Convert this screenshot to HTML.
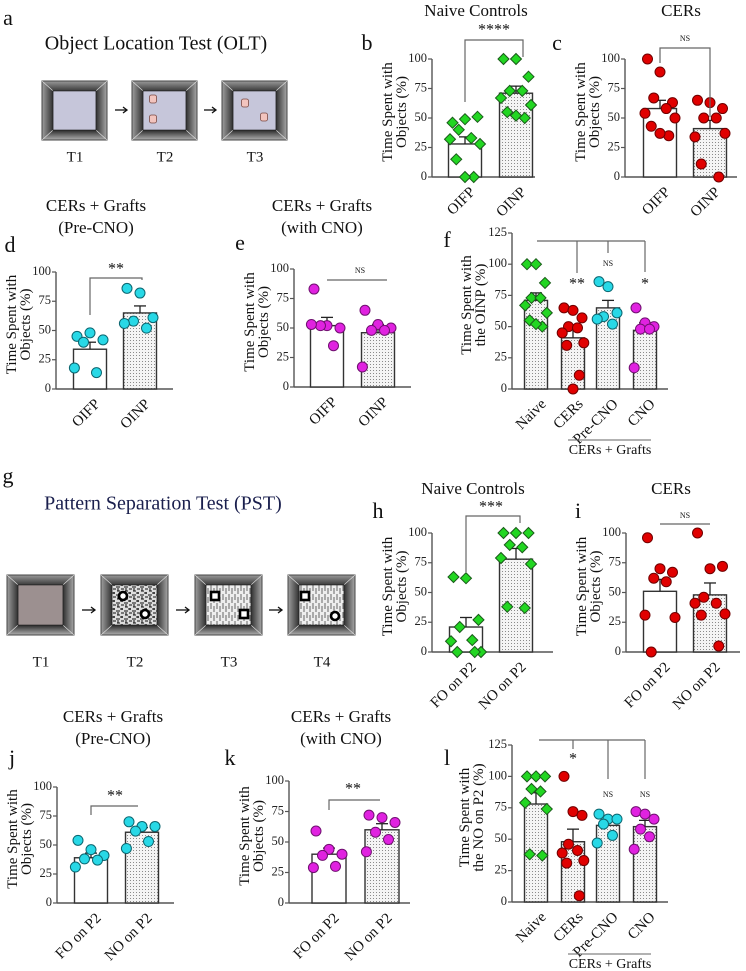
<!DOCTYPE html>
<html><head><meta charset="utf-8"><style>
html,body{margin:0;padding:0;background:#fff;}
svg{display:block;font-family:"Liberation Serif",serif;}
</style></head><body>
<svg id="fig" width="746" height="971" viewBox="0 0 746 971" xmlns="http://www.w3.org/2000/svg">
<defs>
<pattern id="dots" width="3" height="3" patternUnits="userSpaceOnUse"><rect width="3" height="3" fill="#f4f4f4"/><rect x="1" y="1" width="1" height="1" fill="#8a8a8a"/></pattern>
<pattern id="noise" width="8" height="8" patternUnits="userSpaceOnUse"><rect width="8" height="8" fill="#ddd"/><path d="M0 1h3M4 3h4M1 5h3M5 7h3M2 0v2M6 4v3" stroke="#111" stroke-width="1"/></pattern>
<pattern id="vlines" width="6" height="9" patternUnits="userSpaceOnUse"><rect width="6" height="9" fill="#eee"/><path d="M1 0v6M4 3v6" stroke="#444" stroke-width="0.8"/></pattern>
<linearGradient id="gT" x1="0" y1="0" x2="0" y2="1"><stop offset="0" stop-color="#9a9a9a"/><stop offset="1" stop-color="#3a3a3a"/></linearGradient>
<linearGradient id="gB" x1="0" y1="0" x2="0" y2="1"><stop offset="0" stop-color="#2a2a2a"/><stop offset="1" stop-color="#b0b0b0"/></linearGradient>
<linearGradient id="gL" x1="0" y1="0" x2="1" y2="0"><stop offset="0" stop-color="#a0a0a0"/><stop offset="1" stop-color="#303030"/></linearGradient>
<linearGradient id="gR" x1="0" y1="0" x2="1" y2="0"><stop offset="0" stop-color="#303030"/><stop offset="1" stop-color="#a8a8a8"/></linearGradient>
</defs>
<g id="root"></g>
</svg>
<script>
// ---- data ----
const twoGroupLabelsOLT = ["OIFP","OINP"];
const twoGroupLabelsPST = ["FO on P2","NO on P2"];
const fourGroupLabels = ["Naive","CERs","Pre-CNO","CNO"];
const yTicks100 = [0,25,50,75,100];
const yTicks125 = [0,25,50,75,100,125];

const bOIFP = [46,49,51,40,33,32,28,15,0,0];
const bOINP = [100,100,85,73,73,67,61,55,50,52];
const bMeans = [28,71];
const bSems = [6,6];

const cOIFP = [100,89,63,67,58,54,50,43,35,37];
const cOINP = [65,63,58,50,50,34,37,11,0];
const cMeans = [58,41];
const cSems = [7,7];

const dOIFP = [45,48,42,40,14,18];
const dOINP = [86,82,61,58,52,56];
const dMeans = [34,65];
const dSems = [6,6];

const eOIFP = [83,52,50,52,35,53];
const eOINP = [65,53,50,48,48,17];
const eMeans = [52,46];
const eSems = [7,7];

const fNaive = [100,100,85,73,73,67,61,55,50,52];
const fCERs = [65,63,57,50,49,45,37,35,11,0];
const fPre = [86,82,61,58,52,56];
const fCNO = [65,53,50,48,48,17];
const fMeans = [71,41,65,47];
const fSems = [6,7,6,6];

const hFO = [63,62,27,21,10,9,0,0,0];
const hNO = [100,100,100,90,88,79,74,38,37];
const hMeans = [21,78];
const hSems = [8,9];

const iFO = [96,70,67,62,59,31,29,0];
const iNO = [100,70,72,46,41,41,32,31,5];
const iMeans = [51,48];
const iSems = [10,10];

const jFO = [54,46,41,38,37,31];
const jNO = [70,66,66,62,53,47];
const jMeans = [39,61];
const jSems = [4,4];

const kFO = [59,44,40,39,30,29];
const kNO = [72,70,66,58,52,42];
const kMeans = [40,60];
const kSems = [5,5];

const lNaive = [100,100,100,90,88,79,74,38,37];
const lCERs = [100,72,69,46,41,39,33,31,5];
const lPre = [70,66,66,62,53,47];
const lCNO = [72,70,66,58,52,42];
const lMeans = [78,48,61,60];
const lSems = [9,10,4,5];

// ---- drawing helpers ----
const NS="http://www.w3.org/2000/svg";
const root=document.getElementById('root');
function el(tag,attrs,parent,text){const e=document.createElementNS(NS,tag);for(const k in attrs)e.setAttribute(k,attrs[k]);if(text!==undefined)e.textContent=text;(parent||root).appendChild(e);return e;}
function txt(x,y,s,size,parent,extra){const t=el('text',Object.assign({x:x,y:y,'font-size':size,'text-anchor':'middle','dominant-baseline':'middle',fill:'#111'},extra||{}),parent,s);return t;}

const jit=[-10,0,10,-5,5,-12,12,-7,7,0];
const MK={
 green:{shape:'diamond',fill:'#22d622',stroke:'#1a5a1a'},
 red:{shape:'circle',fill:'#e00000',stroke:'#700000'},
 cyan:{shape:'circle',fill:'#28d8e6',stroke:'#0b6670'},
 magenta:{shape:'circle',fill:'#e022e0',stroke:'#701070'}
};

function panel(o){
  const g=el('g',{});
  
  
  const maxV=o.maxV;
  const ys=v=>o.y0-(v/maxV)*(o.y0-o.yMax);
  const ax=el('line',{x1:o.ax,y1:o.yMax,x2:o.ax,y2:o.y0,stroke:'#555','stroke-width':1.4},g);
  
  const xa=el('line',{x1:o.ax,y1:o.y0,x2:o.axEnd,y2:o.y0,stroke:'#555','stroke-width':1.4},g);
  
  o.ticks.forEach(t=>{
    el('line',{x1:o.ax-4,y1:ys(t),x2:o.ax,y2:ys(t),stroke:'#555','stroke-width':1.2},g);
    const tl=txt(o.ax-5,ys(t),String(t),12.5,g,{'text-anchor':'end',fill:'#222'});
    
  });
  const yt=el('text',{transform:`translate(${o.ax+o.ytOff},${(o.y0+o.yMax)/2+o.ytShift}) rotate(-90)`,'font-size':15,'text-anchor':'middle',fill:'#111'},g);
  
  el('tspan',{x:0,dy:0},yt,o.ytitle[0]);
  el('tspan',{x:0,dy:14},yt,o.ytitle[1]);
  o.groups.forEach((gr,i)=>{
    const c=o.centers[i];
    const b=el('rect',{x:c-o.bw/2,y:ys(o.means[i]),width:o.bw,height:o.y0-ys(o.means[i]),fill:gr.fill,stroke:'#333','stroke-width':1.4},g);
    
    
    const top=ys(o.means[i]+o.sems[i]);
    el('line',{x1:c,y1:ys(o.means[i]),x2:c,y2:top,stroke:'#222','stroke-width':1.3},g);
    const eb=el('line',{x1:c-6,y1:top,x2:c+6,y2:top,stroke:'#222','stroke-width':1.3},g);
    
    const m=MK[gr.color];
    gr.vals.forEach((v,k)=>{
      const px=c+jit[k%jit.length]*o.jscale, py=ys(v);
      let p;
      if(m.shape==='diamond'){
        p=el('polygon',{points:`${px},${py-5.5} ${px+5.5},${py} ${px},${py+5.5} ${px-5.5},${py}`,fill:m.fill,stroke:m.stroke,'stroke-width':1},g);
      } else {
        p=el('circle',{cx:px,cy:py,r:5,fill:m.fill,stroke:m.stroke,'stroke-width':1},g);
      }
      
      
    });
    const xl=el('text',{transform:`translate(${c+4},${o.y0+9}) rotate(-45)`,'font-size':15,'text-anchor':'end','dominant-baseline':'hanging',fill:'#111'},g,o.labels[i]);
    
  });
  return g;
}
function bracket(pts,label,lx,ly,size,name){
  const p=el('polyline',{points:pts,fill:'none',stroke:'#666','stroke-width':1.2});
  
  
  const t=txt(lx,ly,label,size);
  
  
}
function label(x,y,s,size,name,anchor){
  const t=el('text',{x:x,y:y,'font-size':size,'text-anchor':anchor||'middle','dominant-baseline':'middle',fill:'#111'},root,s);
  
  
  return t;
}
function arena(x,y,w,h,inset,fillInner,name){
  const g=el('g',{});
  
  
  const ix=x+inset,iy=y+inset*0.9,iw=w-2*inset,ih=h-1.8*inset;
  el('polygon',{points:`${x},${y} ${x+w},${y} ${ix+iw},${iy} ${ix},${iy}`,fill:'url(#gT)'},g);
  el('polygon',{points:`${x},${y+h} ${x+w},${y+h} ${ix+iw},${iy+ih} ${ix},${iy+ih}`,fill:'url(#gB)'},g);
  el('polygon',{points:`${x},${y} ${ix},${iy} ${ix},${iy+ih} ${x},${y+h}`,fill:'url(#gL)'},g);
  el('polygon',{points:`${x+w},${y} ${ix+iw},${iy} ${ix+iw},${iy+ih} ${x+w},${y+h}`,fill:'url(#gR)'},g);
  el('rect',{x:x,y:y,width:w,height:h,fill:'none',stroke:'#444','stroke-width':1},g);
  el('line',{x1:x,y1:y,x2:ix,y2:iy,stroke:'#ddd','stroke-width':0.7},g);
  el('line',{x1:x+w,y1:y,x2:ix+iw,y2:iy,stroke:'#ddd','stroke-width':0.7},g);
  el('line',{x1:x,y1:y+h,x2:ix,y2:iy+ih,stroke:'#ddd','stroke-width':0.7},g);
  el('line',{x1:x+w,y1:y+h,x2:ix+iw,y2:iy+ih,stroke:'#ddd','stroke-width':0.7},g);
  el('rect',{x:ix,y:iy,width:iw,height:ih,fill:fillInner,stroke:'#222','stroke-width':0.8},g);
  return g;
}
function arrow(x1,x2,y,name){
  const g=el('g',{});
  
  
  el('line',{x1:x1,y1:y,x2:x2,y2:y,stroke:'#111','stroke-width':1.3},g);
  el('polyline',{points:`${x2-4},${y-3} ${x2},${y} ${x2-4},${y+3}`,fill:'none',stroke:'#111','stroke-width':1.3},g);
}

// ---- panel letters ----
[['a',8,20],['b',367,45],['c',557,45],['d',10,247],['e',240,245],['f',447,242],['g',8,478],['h',378,513],['i',578,513],['j',12,760],['k',230,760],['l',447,760]].forEach(p=>label(p[1],p[2],p[0],22,'panel-letter-'+p[0]));

// ---- panel a schematic ----
label(156,45,'Object Location Test (OLT)',20,'olt-title');
const boxA=[42,132,222];
boxA.forEach((x,i)=>{
  arena(x,81,65,59,11,'#c6c6da','olt-arena-t'+(i+1));
  label(x+33,158,'T'+(i+1),15,'olt-trial-label');
});
arrow(115,127,110,'olt-arrow');arrow(204,216,110,'olt-arrow');
[[153,99],[153,119],[245,103],[264,117]].forEach(p=>{
  const o=el('rect',{x:p[0]-3.5,y:p[1]-4,width:7,height:8,rx:2,fill:'#f2c4be',stroke:'#7a4a44','stroke-width':0.8});
  
});

// ---- panel g schematic ----
const pt=label(163,505,'Pattern Separation Test (PST)',20,'pst-title');pt.setAttribute('fill','#1a1f4d');
const fills=['#9c9090','url(#noise)','url(#vlines)','url(#vlines)'];
[7,101,195,288].forEach((x,i)=>{
  arena(x,575,67,60,11,fills[i],'pst-arena-t'+(i+1));
  label(x+34,663,'T'+(i+1),15,'pst-trial-label');
});
arrow(82,95,610,'pst-arrow');arrow(176,189,610,'pst-arrow');arrow(269,282,610,'pst-arrow');
[[123,596],[145,614],[335,616]].forEach(p=>{const c=el('circle',{cx:p[0],cy:p[1],r:4,fill:'#fff',stroke:'#000','stroke-width':2.6});});
[[215,596],[244,614],[305,596]].forEach(p=>{const r=el('rect',{x:p[0]-4,y:p[1]-4,width:8,height:8,fill:'#fff',stroke:'#000','stroke-width':2.6});});

// ---- titles ----
label(476,12,'Naive Controls',17,'title-b');
label(681,12,'CERs',17,'title-c');
label(96,207,'CERs + Grafts',17,'title-d');label(96,229,'(Pre-CNO)',17,'title-d-sub');
label(322,207,'CERs + Grafts',17,'title-e');label(322,229,'(with CNO)',17,'title-e-sub');
label(473,490,'Naive Controls',17,'title-h');
label(671,490,'CERs',17,'title-i');
label(113,718,'CERs + Grafts',17,'title-j');label(113,740,'(Pre-CNO)',17,'title-j-sub');
label(341,718,'CERs + Grafts',17,'title-k');label(341,740,'(with CNO)',17,'title-k-sub');

const WT='#ffffff', DT='url(#dots)';
const YT=['Time Spent with','Objects (%)'];
// b
panel({name:'panel-b',ax:432,axEnd:535,yMax:59,y0:177,maxV:100,ticks:yTicks100,centers:[465,516],bw:33,jscale:1.25,ytOff:-40,ytShift:-6,ytitle:YT,labels:twoGroupLabelsOLT,means:bMeans,sems:bSems,groups:[{vals:bOIFP,fill:WT,color:'green'},{vals:bOINP,fill:DT,color:'green'}]});
bracket('465,102 465,40 523,40 523,57','****',494,31,16,'sig-bracket-b');
// c
panel({name:'panel-c',ax:625,axEnd:737,yMax:59,y0:177,maxV:100,ticks:yTicks100,centers:[660,710],bw:33,jscale:1.25,ytOff:-40,ytShift:-6,ytitle:YT,labels:twoGroupLabelsOLT,means:cMeans,sems:cSems,groups:[{vals:cOIFP,fill:WT,color:'red'},{vals:cOINP,fill:DT,color:'red'}]});
bracket('660,63 660,48 710,48 710,117','NS',685,39,8,'sig-bracket-c');
// d
panel({name:'panel-d',ax:56,axEnd:173,yMax:272,y0:389,maxV:100,ticks:yTicks100,centers:[90,140],bw:33,jscale:1.3,ytOff:-40,ytShift:-6,ytitle:YT,labels:twoGroupLabelsOLT,means:dMeans,sems:dSems,groups:[{vals:dOIFP,fill:WT,color:'cyan'},{vals:dOINP,fill:DT,color:'cyan'}]});
bracket('90,315 90,278 142,278 142,280','**',116,270,16,'sig-bracket-d');
// e
panel({name:'panel-e',ax:294,axEnd:411,yMax:269,y0:387,maxV:100,ticks:yTicks100,centers:[327,378],bw:33,jscale:1.3,ytOff:-40,ytShift:-6,ytitle:YT,labels:twoGroupLabelsOLT,means:eMeans,sems:eSems,groups:[{vals:eOIFP,fill:WT,color:'magenta'},{vals:eOINP,fill:DT,color:'magenta'}]});
bracket('327,280 387,280','NS',360,271,8,'sig-bracket-e');
// f
panel({name:'panel-f',ax:512,axEnd:668,yMax:233,y0:389,maxV:125,ticks:yTicks125,centers:[536,573,608,645],bw:23,jscale:0.9,ytOff:-41,ytShift:-6,ytitle:['Time Spent with','the OINP (%)'],labels:fourGroupLabels,means:fMeans,sems:fSems,groups:[{vals:fNaive,fill:DT,color:'green'},{vals:fCERs,fill:DT,color:'red'},{vals:fPre,fill:DT,color:'cyan'},{vals:fCNO,fill:DT,color:'magenta'}]});
bracket('537,241 645,241','',0,0,1,'sig-bracket-f');
bracket('577,241 577,273','**',577,285,16,'sig-bracket-f-cers');
bracket('608,241 608,253','NS',608,264,8,'sig-bracket-f-pre');
bracket('645,241 645,272','*',645,285,16,'sig-bracket-f-cno');
el('line',{x1:568,y1:440,x2:651,y2:440,stroke:'#666','stroke-width':1});
label(610,451,'CERs + Grafts',14,'group-label-f');
// h
panel({name:'panel-h',ax:432,axEnd:553,yMax:533,y0:652,maxV:100,ticks:yTicks100,centers:[466,516],bw:33,jscale:1.25,ytOff:-40,ytShift:-6,ytitle:YT,labels:twoGroupLabelsPST,means:hMeans,sems:hSems,groups:[{vals:hFO,fill:WT,color:'green'},{vals:hNO,fill:DT,color:'green'}]});
bracket('466,572 466,516 520,516 520,523','***',491,508,16,'sig-bracket-h');
// i
panel({name:'panel-i',ax:626,axEnd:740,yMax:533,y0:652,maxV:100,ticks:yTicks100,centers:[660,710],bw:33,jscale:1.25,ytOff:-40,ytShift:-6,ytitle:YT,labels:twoGroupLabelsPST,means:iMeans,sems:iSems,groups:[{vals:iFO,fill:WT,color:'red'},{vals:iNO,fill:DT,color:'red'}]});
bracket('660,524 710,524','NS',685,516,8,'sig-bracket-i');
// j
panel({name:'panel-j',ax:57,axEnd:174,yMax:787,y0:903,maxV:100,ticks:yTicks100,centers:[91,142],bw:33,jscale:1.3,ytOff:-40,ytShift:-6,ytitle:YT,labels:twoGroupLabelsPST,means:jMeans,sems:jSems,groups:[{vals:jFO,fill:WT,color:'cyan'},{vals:jNO,fill:DT,color:'cyan'}]});
bracket('91,815 91,806 138,806','**',115,797,16,'sig-bracket-j');
// k
panel({name:'panel-k',ax:289,axEnd:410,yMax:781,y0:903,maxV:100,ticks:yTicks100,centers:[329,382],bw:34,jscale:1.3,ytOff:-40,ytShift:-6,ytitle:YT,labels:twoGroupLabelsPST,means:kMeans,sems:kSems,groups:[{vals:kFO,fill:WT,color:'magenta'},{vals:kNO,fill:DT,color:'magenta'}]});
bracket('329,810 329,800 380,800','**',353,790,16,'sig-bracket-k');
// l
panel({name:'panel-l',ax:512,axEnd:668,yMax:745,y0:902,maxV:125,ticks:yTicks125,centers:[536,573,608,645],bw:23,jscale:0.9,ytOff:-43,ytShift:-6,ytitle:['Time Spent with','the NO on P2 (%)'],labels:fourGroupLabels,means:lMeans,sems:lSems,groups:[{vals:lNaive,fill:DT,color:'green'},{vals:lCERs,fill:DT,color:'red'},{vals:lPre,fill:DT,color:'cyan'},{vals:lCNO,fill:DT,color:'magenta'}]});
bracket('539,740 645,740','',0,0,1,'sig-bracket-l');
bracket('573,740 573,749','*',573,760,16,'sig-bracket-l-cers');
bracket('608,740 608,779','NS',608,795,8,'sig-bracket-l-pre');
bracket('645,740 645,779','NS',645,795,8,'sig-bracket-l-cno');
el('line',{x1:568,y1:954,x2:651,y2:954,stroke:'#666','stroke-width':1});
label(610,965,'CERs + Grafts',14,'group-label-l');
</script>
</body></html>
